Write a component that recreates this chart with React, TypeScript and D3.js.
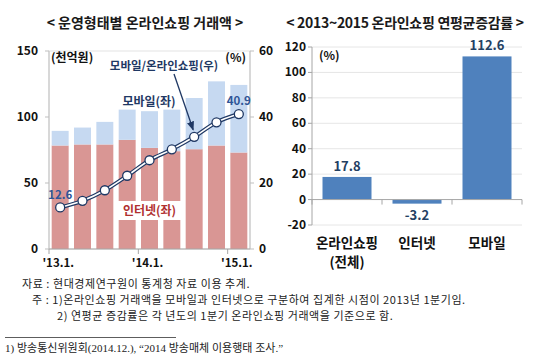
import { useEffect, useRef } from "react";
import * as d3 from "d3";

// left chart: quarterly online shopping (천억원) and mobile share (%)
const quarters = ["'13.1.", "'13.2.", "'13.3.", "'13.4.", "'14.1.", "'14.2.", "'14.3.", "'14.4.", "'15.1."];
const internetValues = [78.4, 79.2, 79.2, 82.7, 76.6, 74.1, 75.6, 78.4, 73.1];
const mobileValues = [11.1, 12.8, 17.1, 22.9, 27.8, 31.5, 38.8, 48.6, 51.2];
const mobileShare = [12.6, 14.6, 17.8, 22.2, 26.9, 30.2, 34.0, 38.4, 40.9];
const leftTicks = [0, 50, 100, 150];
const rightTicks = [0, 20, 40, 60];
const shownQuarters = ["'13.1.", "'14.1.", "'15.1."];

// right chart: 2013~2015 average annual growth (%)
const growthCategories = ["온라인쇼핑", "인터넷", "모바일"];
const growthValues = [17.8, -3.2, 112.6];
const growthTicks = [-20, 0, 20, 40, 60, 80, 100, 120];

const KR = "'Noto Sans CJK KR', 'Noto Sans', sans-serif";

export default function App() {
  const ref = useRef<SVGSVGElement>(null);

  useEffect(() => {
    if (!ref.current) return;
    const svg = d3.select(ref.current);
    svg.selectAll("*").remove();
    svg.style("font-family", KR);

    const defs = svg.append("defs");
    defs.append("marker")
      .attr("id", "arr")
      .attr("viewBox", "0 0 10 10")
      .attr("refX", 9).attr("refY", 5)
      .attr("markerWidth", 7).attr("markerHeight", 7)
      .attr("orient", "auto")
      .append("path").attr("d", "M0,1 L10,5 L0,9 z").attr("fill", "#1f3864");

    // titles
    svg.append("text").attr("x", 145).attr("y", 28).attr("text-anchor", "middle")
      .attr("font-size", 14).attr("font-weight", 700).attr("fill", "#1a1a1a")
      .text("< 운영형태별 온라인쇼핑 거래액 >");
    svg.append("text").attr("x", 405).attr("y", 28).attr("text-anchor", "middle")
      .attr("font-size", 14).attr("font-weight", 700).attr("fill", "#1a1a1a").attr("letter-spacing", -0.3)
      .text("< 2013~2015 온라인쇼핑 연평균증감률 >");

    // ---------- left chart ----------
    const L = { x0: 49, x1: 250, y0: 249, y1: 51 };
    const x = d3.scaleBand<string>().domain(quarters).range([L.x0, L.x1]).paddingInner(0.24).paddingOuter(0.12);
    const yL = d3.scaleLinear().domain([0, 150]).range([L.y0, L.y1]);
    const yR = d3.scaleLinear().domain([0, 60]).range([L.y0, L.y1]);

    const gl = svg.append("g");
    gl.append("rect").attr("x", L.x0).attr("y", L.y1).attr("width", L.x1 - L.x0).attr("height", L.y0 - L.y1)
      .attr("fill", "none").attr("stroke", "#e3e3e3");

    const data = quarters.map((q, i) => ({ q, net: internetValues[i], mob: mobileValues[i], share: mobileShare[i] }));

    gl.selectAll("rect.net").data(data).join("rect").attr("class", "net")
      .attr("x", (d) => x(d.q)!).attr("width", x.bandwidth())
      .attr("y", (d) => yL(d.net)).attr("height", (d) => yL(0) - yL(d.net))
      .attr("fill", "#d99694");
    gl.selectAll("rect.mob").data(data).join("rect").attr("class", "mob")
      .attr("x", (d) => x(d.q)!).attr("width", x.bandwidth())
      .attr("y", (d) => yL(d.net + d.mob)).attr("height", (d) => yL(d.net) - yL(d.net + d.mob))
      .attr("fill", "#c6d9f1");

    // axes
    gl.append("line").attr("x1", L.x0).attr("x2", L.x0).attr("y1", L.y1).attr("y2", L.y0).attr("stroke", "#bfbfbf");
    gl.append("line").attr("x1", L.x1).attr("x2", L.x1).attr("y1", L.y1).attr("y2", L.y0).attr("stroke", "#bfbfbf");
    gl.append("line").attr("x1", L.x0).attr("x2", L.x1).attr("y1", L.y0).attr("y2", L.y0).attr("stroke", "#a6a6a6");
    leftTicks.forEach((t) => {
      gl.append("line").attr("x1", L.x0 - 4).attr("x2", L.x0).attr("y1", yL(t)).attr("y2", yL(t)).attr("stroke", "#bfbfbf");
      gl.append("text").attr("x", 38).attr("y", yL(t) + 4).attr("text-anchor", "end")
        .attr("font-size", 12).attr("font-weight", 700).attr("fill", "#111").text(t);
    });
    rightTicks.forEach((t) => {
      gl.append("line").attr("x1", L.x1).attr("x2", L.x1 + 4).attr("y1", yR(t)).attr("y2", yR(t)).attr("stroke", "#bfbfbf");
      gl.append("text").attr("x", 259).attr("y", yR(t) + 4).attr("text-anchor", "start")
        .attr("font-size", 12).attr("font-weight", 700).attr("fill", "#111").text(t);
    });
    [0, 4, 8].forEach((i) => {
      const tx = L.x0 + x.step() * i;
      gl.append("line").attr("x1", tx).attr("x2", tx).attr("y1", L.y0).attr("y2", L.y0 + 5).attr("stroke", "#a6a6a6");
    });
    shownQuarters.forEach((q) => {
      gl.append("text").attr("x", x(q)! + x.bandwidth() / 2 - 2).attr("y", 267).attr("text-anchor", "middle")
        .attr("font-size", 11.5).attr("font-weight", 700).attr("fill", "#111").text(q);
    });

    // internet label with white box
    gl.append("rect").attr("x", 118).attr("y", 201).attr("width", 63).attr("height", 19).attr("fill", "#fff");
    gl.append("text").attr("x", 149.5).attr("y", 215).attr("text-anchor", "middle")
      .attr("font-size", 12).attr("font-weight", 700).attr("fill", "#b03030").text("인터넷(좌)");

    // share line (double line)
    const line = d3.line<(typeof data)[number]>()
      .x((d) => x(d.q)! + x.bandwidth() / 2).y((d) => yR(d.share)).curve(d3.curveMonotoneX);
    gl.append("path").attr("d", line(data)!).attr("fill", "none").attr("stroke", "#1f3864").attr("stroke-width", 4);
    gl.append("path").attr("d", line(data)!).attr("fill", "none").attr("stroke", "#fff").attr("stroke-width", 1.6);
    gl.selectAll("circle").data(data).join("circle")
      .attr("cx", (d) => x(d.q)! + x.bandwidth() / 2).attr("cy", (d) => yR(d.share)).attr("r", 4.5)
      .attr("fill", "#fff").attr("stroke", "#1f3864").attr("stroke-width", 1.3);

    const first = data[0], last = data[data.length - 1];
    gl.append("text").attr("x", x(first.q)! + x.bandwidth() / 2).attr("y", yR(first.share) - 8).attr("text-anchor", "middle")
      .attr("font-size", 11.5).attr("font-weight", 700).attr("fill", "#2f5597").text(first.share.toFixed(1));
    gl.append("text").attr("x", x(last.q)! + x.bandwidth() / 2).attr("y", yR(last.share) - 9).attr("text-anchor", "middle")
      .attr("font-size", 11.5).attr("font-weight", 700).attr("fill", "#2f5597").text(last.share.toFixed(1));

    gl.append("text").attr("x", 51).attr("y", 62).attr("font-size", 12).attr("font-weight", 700).attr("fill", "#111").text("(천억원)");
    gl.append("text").attr("x", 246).attr("y", 62).attr("text-anchor", "end").attr("font-size", 12).attr("font-weight", 700).attr("fill", "#111").text("(%)");
    gl.append("text").attr("x", 164).attr("y", 70).attr("text-anchor", "middle")
      .attr("font-size", 11.5).attr("font-weight", 700).attr("fill", "#1f3864").text("모바일/온라인쇼핑(우)");
    gl.append("text").attr("x", 149).attr("y", 106).attr("text-anchor", "middle")
      .attr("font-size", 12).attr("font-weight", 700).attr("fill", "#1f3864").text("모바일(좌)");
    const p7 = data[6];
    gl.append("line").attr("x1", 174).attr("y1", 74)
      .attr("x2", x(p7.q)! + x.bandwidth() / 2 - 1).attr("y2", yR(p7.share) - 7)
      .attr("stroke", "#1f3864").attr("stroke-width", 1.3).attr("marker-end", "url(#arr)");

    // ---------- right chart ----------
    const R = { x0: 312, x1: 522, y0: 225, y1: 47 };
    const xr = d3.scaleBand<string>().domain(growthCategories).range([R.x0, R.x1]).paddingInner(0.3).paddingOuter(0.15);
    const yr = d3.scaleLinear().domain([-20, 120]).range([R.y0, R.y1]);
    const gr = svg.append("g");

    growthTicks.forEach((t) => {
      if (t !== 0) gr.append("line").attr("x1", R.x0).attr("x2", R.x1).attr("y1", yr(t)).attr("y2", yr(t)).attr("stroke", "#e6e6e6");
      gr.append("line").attr("x1", R.x0 - 4).attr("x2", R.x0).attr("y1", yr(t)).attr("y2", yr(t)).attr("stroke", "#a6a6a6");
      gr.append("text").attr("x", 306).attr("y", yr(t) + 4).attr("text-anchor", "end")
        .attr("font-size", 12).attr("font-weight", 700).attr("fill", "#111").text(t);
    });
    gr.append("line").attr("x1", R.x0).attr("x2", R.x0).attr("y1", R.y1).attr("y2", R.y0).attr("stroke", "#a6a6a6");

    const gdata = growthCategories.map((c, i) => ({ c, v: growthValues[i] }));
    gr.selectAll("rect").data(gdata).join("rect")
      .attr("x", (d) => xr(d.c)!).attr("width", xr.bandwidth())
      .attr("y", (d) => yr(Math.max(0, d.v))).attr("height", (d) => Math.abs(yr(d.v) - yr(0)))
      .attr("fill", "#4f81bd");

    gr.append("line").attr("x1", R.x0).attr("x2", R.x1).attr("y1", yr(0)).attr("y2", yr(0)).attr("stroke", "#a6a6a6");
    [0, 1, 2, 3].forEach((i) => {
      const tx = R.x0 + xr.step() * i;
      gr.append("line").attr("x1", tx).attr("x2", tx).attr("y1", yr(0)).attr("y2", yr(0) + 5).attr("stroke", "#a6a6a6");
    });

    gr.selectAll("text.val").data(gdata).join("text").attr("class", "val")
      .attr("x", (d) => xr(d.c)! + xr.bandwidth() / 2)
      .attr("y", (d) => (d.v >= 0 ? yr(d.v) - 6 : yr(d.v) + 16))
      .attr("text-anchor", "middle").attr("font-size", 13).attr("font-weight", 700).attr("fill", "#244062")
      .text((d) => d.v.toFixed(1));

    gr.selectAll("text.cat").data(gdata).join("text").attr("class", "cat")
      .attr("x", (d) => xr(d.c)! + xr.bandwidth() / 2).attr("y", 248)
      .attr("text-anchor", "middle").attr("font-size", 13.5).attr("font-weight", 700).attr("fill", "#111")
      .text((d) => d.c);
    gr.append("text").attr("x", xr(growthCategories[0])! + xr.bandwidth() / 2).attr("y", 267)
      .attr("text-anchor", "middle").attr("font-size", 13.5).attr("font-weight", 700).attr("fill", "#111").text("(전체)");
    gr.append("text").attr("x", 319).attr("y", 60).attr("font-size", 12).attr("font-weight", 700).attr("fill", "#111").text("(%)");

    // ---------- notes ----------
    const notes = svg.append("g").attr("font-size", 11).attr("fill", "#222").attr("letter-spacing", 0.55);
    notes.append("text").attr("x", 22).attr("y", 287.5).text("자료 : 현대경제연구원이 통계청 자료 이용 추계.");
    notes.append("text").attr("x", 32).attr("y", 303.5).text("주 : 1)온라인쇼핑 거래액을 모바일과 인터넷으로 구분하여 집계한 시점이 2013년 1분기임.");
    notes.append("text").attr("x", 57).attr("y", 319.5).text("2) 연평균 증감률은 각 년도의 1분기 온라인쇼핑 거래액을 기준으로 함.");

    svg.append("line").attr("x1", 5).attr("x2", 176).attr("y1", 337.5).attr("y2", 337.5).attr("stroke", "#333").attr("stroke-width", 0.8);
    svg.append("text").attr("x", 5).attr("y", 352).attr("font-size", 11)
      .attr("font-family", "'Liberation Serif', 'Noto Sans CJK KR', serif").attr("fill", "#222")
      .text("1) 방송통신위원회(2014.12.), “2014 방송매체 이용행태 조사.”");
  }, []);

  return (
    <div style={{ position: "absolute", left: 0, top: 0 }}>
      <svg ref={ref} width={550} height={360} style={{ display: "block", background: "#fff" }} />
    </div>
  );
}
